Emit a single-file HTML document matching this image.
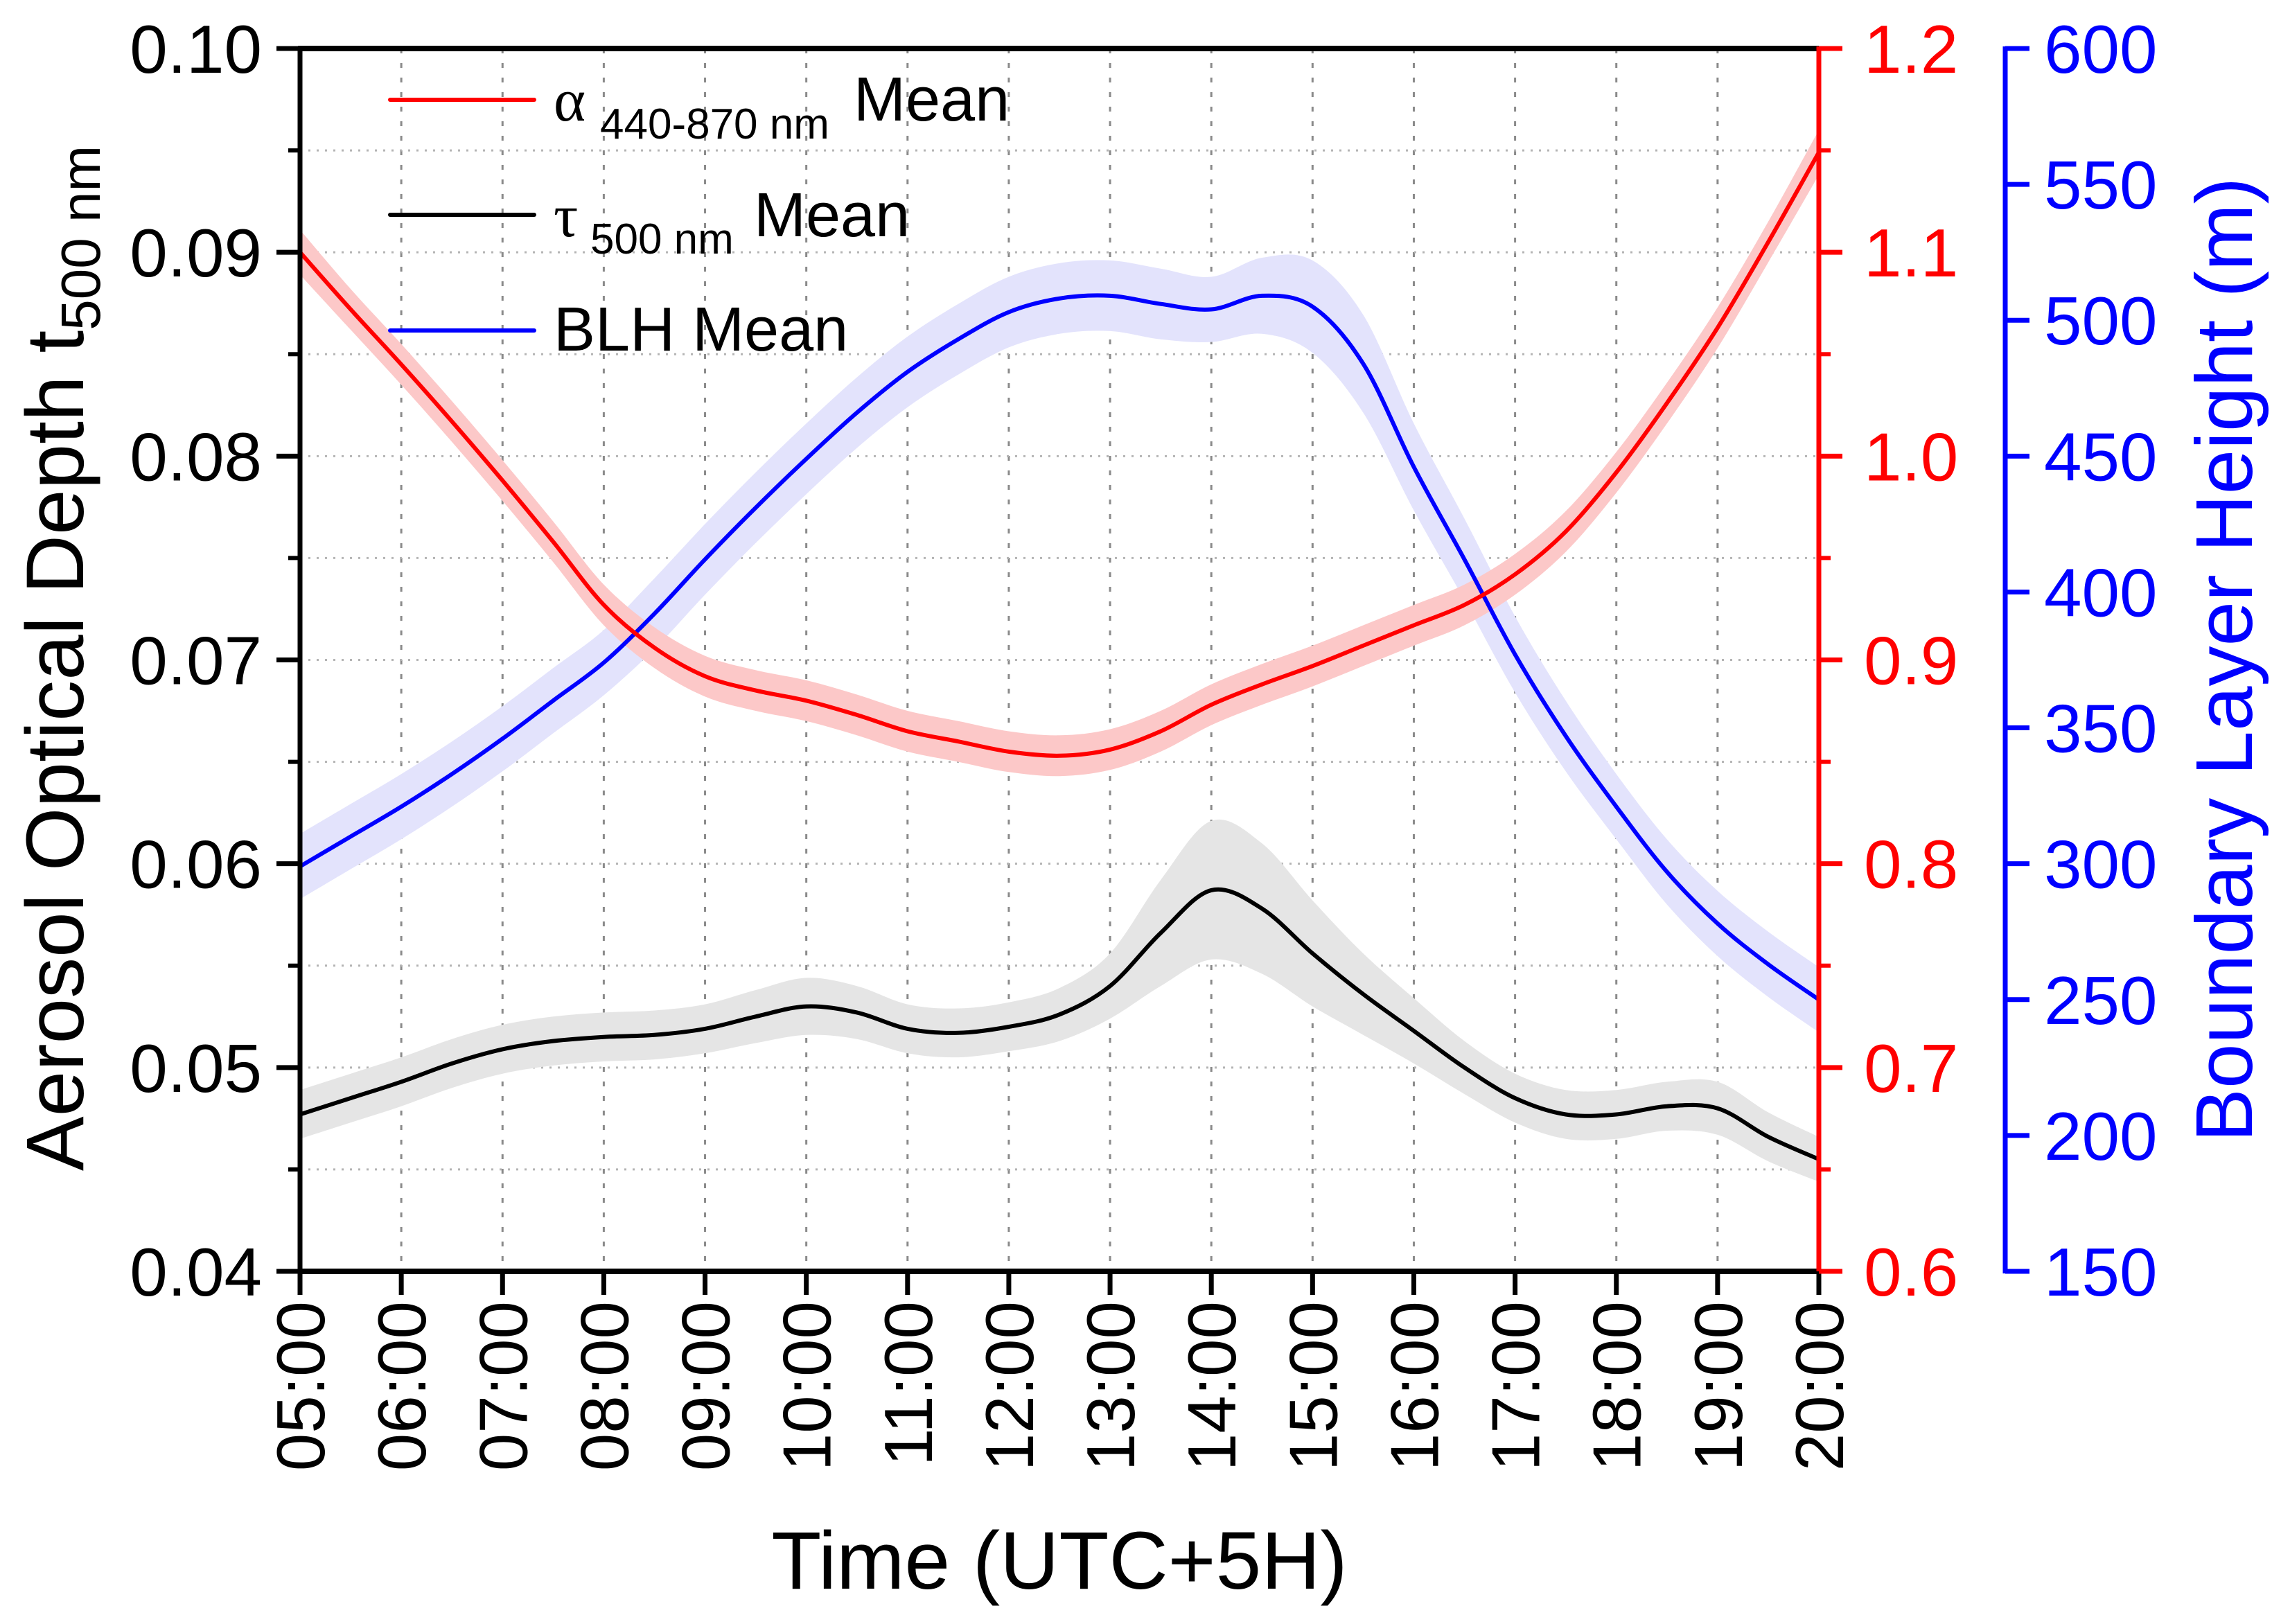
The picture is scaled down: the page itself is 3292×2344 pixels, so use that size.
<!DOCTYPE html>
<html><head><meta charset="utf-8"><style>
html,body{margin:0;padding:0;background:#fff;}
svg{display:block;font-family:"Liberation Sans",Arial,sans-serif;}
</style></head><body>
<svg id="chart" width="3292" height="2344" viewBox="0 0 3292 2344" xmlns="http://www.w3.org/2000/svg">
<g id="grid"></g>
<g id="bands"></g>
<g id="lines"></g>
<g id="axes"></g>
<g id="legend">
  <line x1="563" y1="144" x2="771" y2="144" stroke="#ff0000" stroke-width="6" stroke-linecap="round"/>
  <text font-size="90"><tspan x="799" y="174" font-family="'Liberation Serif',serif" font-size="88">α</tspan><tspan x="866" y="200" font-size="62">440-870 nm</tspan><tspan x="1232" y="174">Mean</tspan></text>
  <line x1="563" y1="310" x2="771" y2="310" stroke="#000" stroke-width="6" stroke-linecap="round"/>
  <text font-size="90"><tspan x="799" y="341" font-family="'Liberation Serif',serif" font-size="88">τ</tspan><tspan x="852" y="366" font-size="62">500 nm</tspan><tspan x="1088" y="341">Mean</tspan></text>
  <line x1="563" y1="477" x2="771" y2="477" stroke="#0000ff" stroke-width="6" stroke-linecap="round"/>
  <text x="799" y="506" font-size="90">BLH Mean</text>
</g>
<text transform="translate(120,950) rotate(-90)" text-anchor="middle" font-size="118">Aerosol Optical Depth t<tspan font-size="80" dy="24">500 nm</tspan></text>
<text transform="translate(3250,952) rotate(-90)" text-anchor="middle" font-size="116" fill="#0000ff">Boundary Layer Height (m)</text>
<text x="1529" y="2293" text-anchor="middle" font-size="118">Time (UTC+5H)</text>
</svg>
<script>
const hours = [5,5.5,6,6.5,7,7.5,8,8.5,9,9.5,10,10.5,11,11.5,12,12.5,13,13.5,14,14.5,15,15.5,16,16.5,17,17.5,18,18.5,19,19.5,20];
const tauMean = [0.0477,0.0485,0.0493,0.0502,0.0509,0.0513,0.0515,0.0516,0.0519,0.0525,0.0530,0.0527,0.0519,0.0517,0.0520,0.0526,0.0540,0.0566,0.0587,0.0578,0.0556,0.0536,0.0518,0.0500,0.0485,0.0477,0.0477,0.0481,0.0480,0.0466,0.0455];
const tauErr = [0.0012,0.0012,0.0012,0.0012,0.0012,0.0012,0.0012,0.0012,0.0012,0.0013,0.0014,0.0013,0.0012,0.0012,0.0012,0.0013,0.0016,0.0026,0.0034,0.0032,0.0026,0.0020,0.0016,0.0013,0.0012,0.0012,0.0012,0.0012,0.0013,0.0012,0.0011];
const alphaMean = [1.100,1.072,1.045,1.017,0.988,0.958,0.927,0.906,0.892,0.885,0.880,0.873,0.865,0.860,0.855,0.853,0.856,0.865,0.878,0.888,0.897,0.907,0.917,0.927,0.942,0.963,0.992,1.026,1.063,1.105,1.149];
const alphaErr = [0.011,0.010,0.010,0.010,0.010,0.010,0.010,0.010,0.010,0.010,0.010,0.010,0.010,0.010,0.010,0.010,0.010,0.010,0.010,0.010,0.010,0.010,0.010,0.010,0.010,0.010,0.010,0.010,0.010,0.010,0.011];
const blhMean = [299,310,321,333,346,360,374,392,412,431,449,466,481,493,503,508,509,506,504,509,505,484,446,412,377,347,321,297,278,263,250];
const blhErr = [12,12,12,12,12,12,12,13,13,13,13,13,13,13,13,13,13,13,12,14,17,18,16,15,14,13,12,12,12,12,12];
const xTicks = ["05:00","06:00","07:00","08:00","09:00","10:00","11:00","12:00","13:00","14:00","15:00","16:00","17:00","18:00","19:00","20:00"];
const leftTicks = [0.04,0.05,0.06,0.07,0.08,0.09,0.10];
const redTicks = [0.6,0.7,0.8,0.9,1.0,1.1,1.2];
const blueTicks = [150,200,250,300,350,400,450,500,550,600];

const L=433,R=2625,T=70,B=1835,BA=2894;
const NS="http://www.w3.org/2000/svg";
const X=h=>L+(h-5)/15*(R-L);
const YL=v=>B-(v-0.04)/0.06*(B-T);
const YR=v=>B-(v-0.6)/0.6*(B-T);
const YB=v=>B-(v-150)/450*(B-T);
function mk(tag,attrs,parent){const e=document.createElementNS(NS,tag);for(const k in attrs)e.setAttribute(k,attrs[k]);parent.appendChild(e);return e;}
function smooth(pts){let d="M"+pts[0][0]+","+pts[0][1];for(let i=0;i<pts.length-1;i++){const p0=pts[Math.max(0,i-1)],p1=pts[i],p2=pts[i+1],p3=pts[Math.min(pts.length-1,i+2)];const c1=[p1[0]+(p2[0]-p0[0])/6,p1[1]+(p2[1]-p0[1])/6],c2=[p2[0]-(p3[0]-p1[0])/6,p2[1]-(p3[1]-p1[1])/6];d+="C"+c1[0].toFixed(1)+","+c1[1].toFixed(1)+" "+c2[0].toFixed(1)+","+c2[1].toFixed(1)+" "+p2[0].toFixed(1)+","+p2[1].toFixed(1);}return d;}
const grid=document.getElementById('grid'),bands=document.getElementById('bands'),lines=document.getElementById('lines'),axes=document.getElementById('axes');
for(let i=1;i<xTicks.length-1;i++){const g=mk('line',{x1:X(5+i),x2:X(5+i),y1:T,y2:B,stroke:'#8a8a8a','stroke-width':3,'stroke-dasharray':'7 14'},grid);

}
for(let v=0.045;v<0.0999;v+=0.005){const g=mk('line',{x1:L,x2:R,y1:YL(v),y2:YL(v),stroke:'#b4b4b4','stroke-width':3,'stroke-dasharray':'3 9'},grid);

}
function series(mean,err,Y,band,line,name){
 const up=hours.map((h,i)=>[X(h),Y(mean[i]+err[i])]);const lo=hours.map((h,i)=>[X(h),Y(mean[i]-err[i])]).reverse();
 const b=mk('path',{d:smooth(up)+"L"+smooth(lo).slice(1)+"Z",fill:band,stroke:'none'},bands);
 
 
 const l=mk('path',{d:smooth(hours.map((h,i)=>[X(h),Y(mean[i])])),fill:'none',stroke:line,'stroke-width':6},lines);
 
 
}
series(blhMean,blhErr,YB,'#e3e3fc','#0000ff','blh');
series(alphaMean,alphaErr,YR,'#fcc8c8','#ff0000','alpha');
series(tauMean,tauErr,YL,'#e5e5e5','#000000','tau');
function ln(x1,y1,x2,y2,c,w,name){const e=mk('line',{x1,y1,x2,y2,stroke:c,'stroke-width':w},axes);return e;}
function tx(x,y,s,c,anchor,name,extra){const e=mk('text',Object.assign({x,y,fill:c,'font-size':98,'text-anchor':anchor},extra||{}),axes);e.textContent=s;return e;}
ln(L-3,T,R,T,'#000',8,'top-axis-line');
ln(L,T,L,B+4,'#000',7,'left-axis-line');
ln(L-3,B,R,B,'#000',8,'x-axis-line');
ln(R,T-3,R,B+3,'#ff0000',7,'right-axis-line-red');
ln(BA,T-3,BA,B+3,'#0000ff',7,'right-axis-line-blue');
xTicks.forEach((s,i)=>{const x=X(5+i);ln(x,B,x,B+34,'#000',7,'x-tick');
 tx(0,0,s,'#000','end','x-tick-label',{transform:`translate(${x+35},1878) rotate(-90)`});});
leftTicks.forEach(v=>{const y=YL(v);ln(L-34,y,L,y,'#000',7,'y-tick-left');tx(378,y+35,v.toFixed(2),'#000','end','y-tick-label-left');});
for(let v=0.045;v<0.1;v+=0.01){ln(L-17,YL(v),L,YL(v),'#000',6,'y-minor-tick-left');}
redTicks.forEach(v=>{const y=YR(v);ln(R,y,R+34,y,'#ff0000',7,'y-tick-red');tx(2690,y+35,v.toFixed(1),'#ff0000','start','y-tick-label-red');});
for(let v=0.65;v<1.2;v+=0.1){ln(R,YR(v),R+17,YR(v),'#ff0000',6,'y-minor-tick-red');}
blueTicks.forEach(v=>{const y=YB(v);ln(BA,y,BA+35,y,'#0000ff',7,'y-tick-blue');tx(2950,y+35,String(v),'#0000ff','start','y-tick-label-blue');});
</script>
</body></html>
